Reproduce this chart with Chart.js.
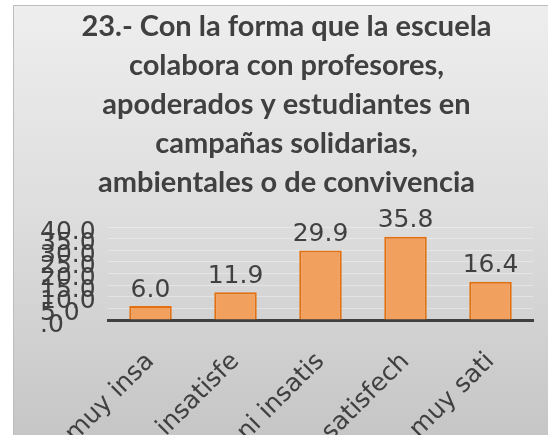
<!DOCTYPE html>
<html><head><meta charset="utf-8">
<script src="https://cdn.jsdelivr.net/npm/chart.js@4/dist/chart.umd.min.js"></script>
<style>html,body{margin:0;padding:0;background:#fff;overflow:hidden}#wrap{position:relative;width:548px;height:435px;}</style>
</head><body><div id="wrap"><canvas id="c" width="548" height="435"></canvas></div>
<script>
const categories = ['muy insa', 'insatisfe', 'ni insatis', 'satisfech', 'muy sati'];
const values = [6.0, 11.9, 29.9, 35.8, 16.4];
const yTickLabels = ['.0', '5.0', '10.0', '15.0', '20.0', '25.0', '30.0', '35.0', '40.0'];
const titleLines = ['23.- Con la forma que la escuela', 'colabora con profesores,', 'apoderados y estudiantes en', 'campañas solidarias,', 'ambientales o de convivencia'];

const TXT = '#404040';
const LBLFONT = "'DejaVu Sans'";

const bgPlugin = {
  id: 'bg',
  beforeDraw(chart) {
    const ctx = chart.ctx;
    ctx.save();
    const g = ctx.createLinearGradient(0, 5, 0, 435);
    g.addColorStop(0, '#eeeeee');
    g.addColorStop(0.5, '#dddddd');
    g.addColorStop(1, '#c6c6c6');
    ctx.fillStyle = g;
    ctx.fillRect(13, 5, 540, 435);
    ctx.strokeStyle = '#bdbdbd';
    ctx.lineWidth = 1;
    ctx.beginPath();
    ctx.moveTo(13.5, 440); ctx.lineTo(13.5, 5.5); ctx.lineTo(560, 5.5);
    ctx.stroke();
    ctx.restore();
  }
};

const valueLabels = {
  id: 'valueLabels',
  afterDatasetsDraw(chart) {
    const ctx = chart.ctx;
    const meta = chart.getDatasetMeta(0);
    ctx.save();
    ctx.font = "25px " + LBLFONT;
    ctx.fillStyle = TXT;
    ctx.textAlign = 'center';
    ctx.textBaseline = 'middle';
    meta.data.forEach((bar, i) => {
      ctx.fillText(values[i].toFixed(1), bar.x, bar.y - 16);
    });
    ctx.restore();
  }
};

new Chart(document.getElementById('c'), {
  type: 'bar',
  data: {
    labels: categories,
    datasets: [{
      data: values,
      backgroundColor: '#f2a05e',
      borderColor: '#e2700f',
      borderWidth: 2,
      categoryPercentage: 1,
      barPercentage: 0.5
    }]
  },
  options: {
    responsive: false,
    animation: false,
    layout: { padding: { left: 40, right: 15, top: 0, bottom: 0 } },
    plugins: {
      legend: { display: false },
      tooltip: { enabled: false },
      title: {
        display: true,
        text: titleLines,
        color: TXT,
        font: { family: 'Lato', weight: 'bold', size: 29, lineHeight: 39 / 29 },
        padding: { top: 7.5, bottom: 24.5 }
      }
    },
    scales: {
      x: {
        grid: { display: false, drawTicks: false },
        border: { display: true, color: TXT, width: 3 },
        ticks: {
          minRotation: 45, maxRotation: 45, autoSkip: false, padding: 27,
          font: { family: 'DejaVu Sans', size: 25 }, color: TXT
        },
        afterFit(s) { s.height = 115; }
      },
      y: {
        min: 0, max: 40,
        border: { display: false },
        grid: { color: 'rgba(255,255,255,0.35)', drawTicks: false },
        ticks: {
          stepSize: 5, crossAlign: 'far', padding: 0, autoSkip: false,
          callback: (v, i) => ['', yTickLabels[i]],
          font: { family: 'DejaVu Sans', size: 25, lineHeight: 0.4 }, color: TXT
        },
        afterFit(s) { s.width = 68; }
      }
    }
  },
  plugins: [bgPlugin, valueLabels]
});
</script>
</body></html>
